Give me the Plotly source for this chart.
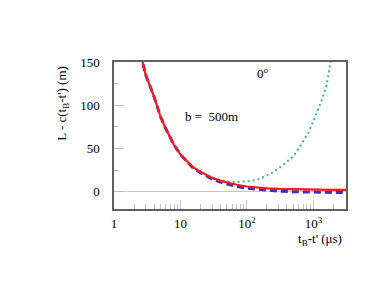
import plotly.graph_objects as go

# time t_B - t' (microseconds)
t_red = [2.5, 3, 4, 5, 6, 8, 10, 15, 20, 30, 40, 50, 70, 100, 150, 200, 300, 500, 700, 1000, 1500, 2000, 3200]
v_red = [160, 135, 110, 87, 73, 54, 43, 29, 23, 16, 12.5, 10.5, 8, 6, 4.6, 3.9, 3.2, 2.7, 2.5, 2.3, 2.2, 2.1, 2.0]

t_blue = [2.5, 3, 4, 5, 6, 8, 10, 15, 20, 30, 40, 50, 70, 100, 150, 200, 300, 500, 700, 1000, 1500, 2000, 3200]
v_blue = [160, 135, 110, 87, 73, 54, 43, 28.5, 22, 14.5, 11, 9, 6, 4, 2.5, 1.5, 0.7, 0, -0.4, -0.6, -0.8, -0.9, -1.0]

t_green = [2.5, 3, 4, 5, 6, 8, 10, 15, 20, 30, 40, 50, 70, 80, 100, 125, 150, 180, 250, 350, 480, 550, 830, 1050, 1320, 1580, 1780, 1850]
v_green = [160, 135, 110, 87, 73, 54, 43, 29, 23.5, 16.5, 13.5, 12, 11.2, 11.2, 12, 13, 14.5, 17, 22.7, 30.8, 40, 45.3, 67.6, 85.6, 105, 123, 146, 155]

x_tickvals = [1, 10, 100, 1000]
x_ticktext = ["1", "10", "10<sup>2</sup>", "10<sup>3</sup>"]
y_tickvals = [0, 50, 100, 150]

FONT = "Liberation Serif, Times New Roman, Times, serif"

fig = go.Figure()
fig.add_trace(go.Scatter(x=t_green, y=v_green, mode="lines",
                         line=dict(color="#3db38a", width=2, dash="2px,3px"), showlegend=False))
fig.add_trace(go.Scatter(x=t_blue, y=v_blue, mode="lines",
                         line=dict(color="#3a2fc8", width=3, dash="7px,4px"), showlegend=False))
fig.add_trace(go.Scatter(x=t_red, y=v_red, mode="lines",
                         line=dict(color="#ff1a1a", width=2.2), showlegend=False))

fig.update_layout(
    width=389, height=292,
    margin=dict(l=106, r=51, t=54, b=91),
    paper_bgcolor="white", plot_bgcolor="white",
    font=dict(family=FONT, size=13, color="black"),
    xaxis=dict(type="log", range=[0, 3.49], tickvals=x_tickvals, ticktext=x_ticktext,
               ticks="inside", ticklen=9, tickcolor="#c0c0c0", tickwidth=1,
               minor=dict(ticks="inside", ticklen=5, tickcolor="#c0c0c0", dtick="D1", showgrid=False),
               showgrid=False, zeroline=False, ticklabelstandoff=2,
               showline=True, mirror=True, linecolor="#606060", linewidth=1.5,
               tickfont=dict(family=FONT, size=13)),
    yaxis=dict(range=[-20, 150], tickvals=y_tickvals,
               ticks="inside", ticklen=10, tickcolor="#c0c0c0", tickwidth=1,
               minor=dict(ticks="inside", ticklen=5, tickcolor="#c0c0c0", dtick=25, showgrid=False),
               showgrid=False, zeroline=True, zerolinecolor="#c8c8c8", zerolinewidth=1,
               ticklabelstandoff=10,
               showline=True, mirror=True, linecolor="#606060", linewidth=1.5,
               tickfont=dict(family=FONT, size=13)),
    annotations=[
        dict(text="L - c(t<sub>B</sub>-t') (m)", xref="paper", yref="paper", x=-0.22, y=0.722,
             textangle=-90, showarrow=False, xanchor="center", yanchor="middle",
             font=dict(family=FONT, size=13)),
        dict(text="t<sub>B</sub>-t' (\u03bcs)", xref="paper", yref="paper", x=0.889, y=-0.205,
             showarrow=False, xanchor="center", yanchor="middle",
             font=dict(family=FONT, size=13)),
        dict(text="0<sup>o</sup>", xref="paper", yref="paper", x=0.641, y=0.925,
             showarrow=False, xanchor="center", yanchor="middle",
             font=dict(family=FONT, size=13)),
        dict(text="b =\u00a0 500m", xref="paper", yref="paper", x=0.421, y=0.627,
             showarrow=False, xanchor="center", yanchor="middle",
             font=dict(family=FONT, size=13)),
    ],
)

fig.write_html("out.html")
